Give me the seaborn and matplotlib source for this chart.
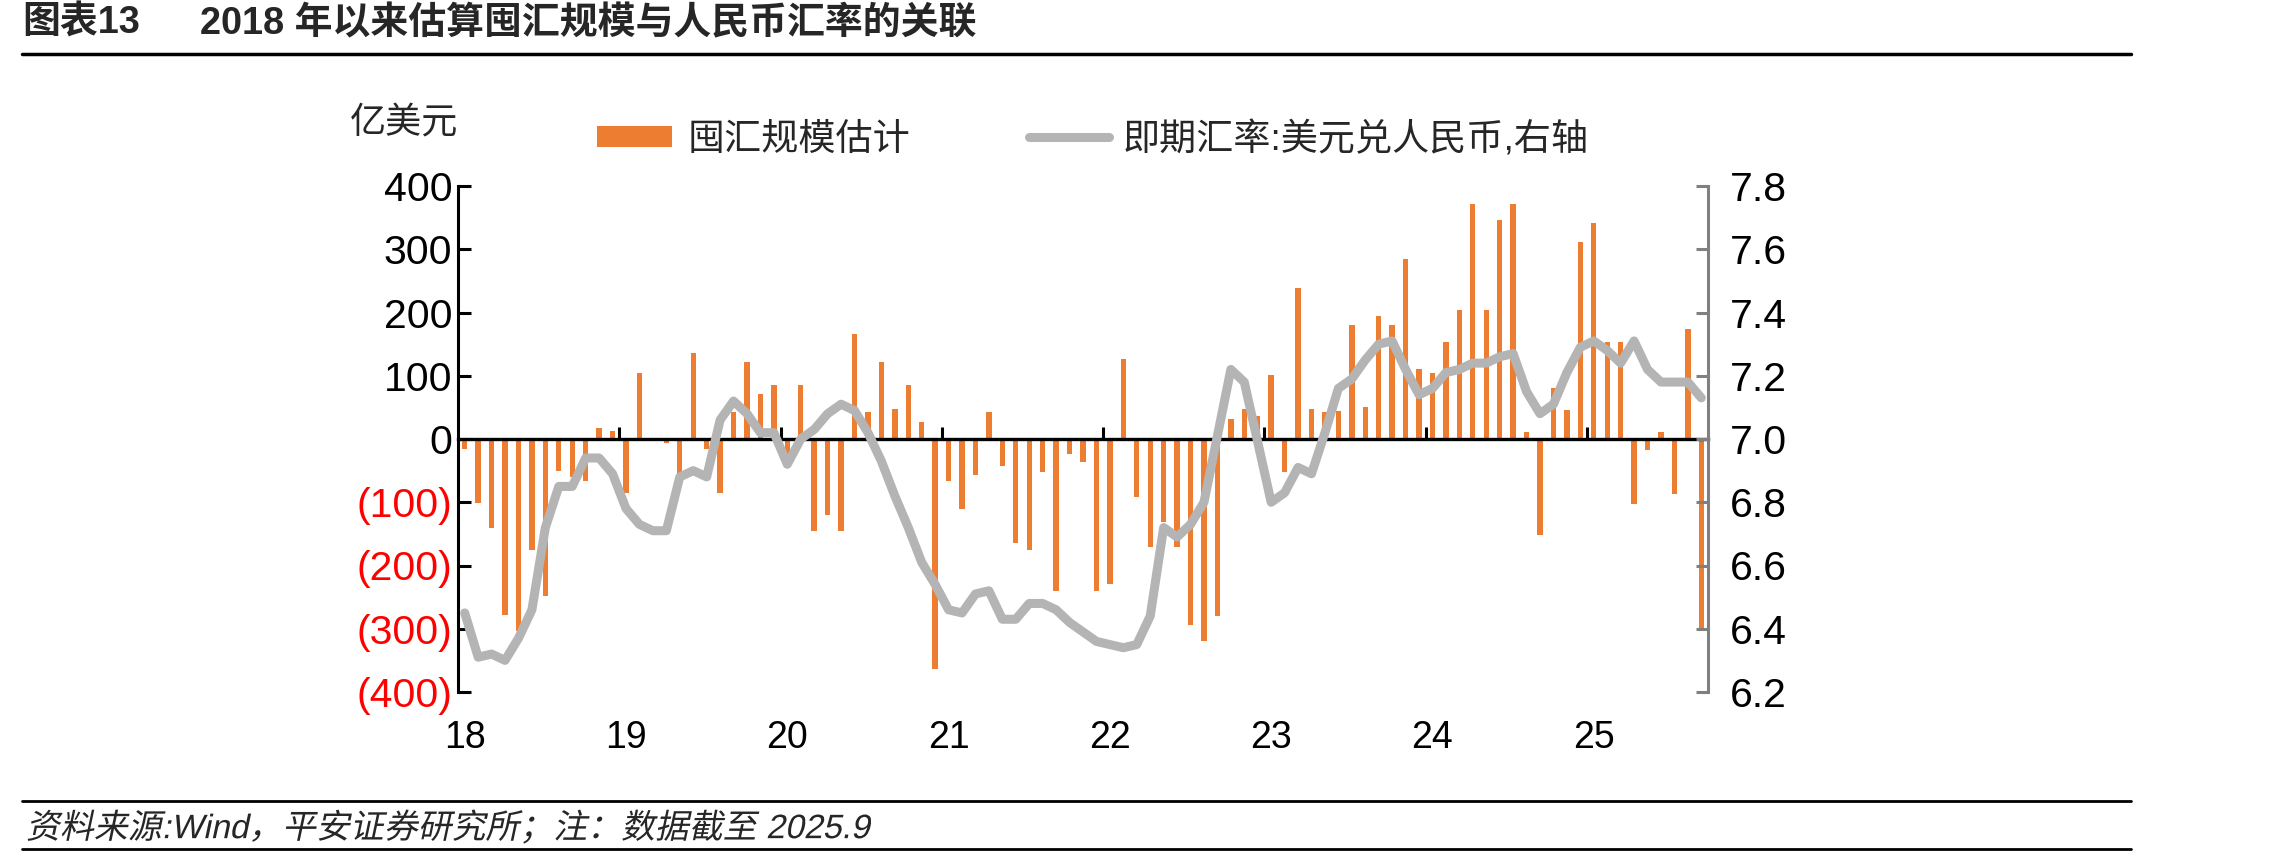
import numpy as np
import pandas as pd
import matplotlib
matplotlib.use("Agg")
import matplotlib.pyplot as plt
import seaborn as sns
from matplotlib.lines import Line2D
from matplotlib.patches import Patch
from matplotlib.transforms import Affine2D, blended_transform_factory
from matplotlib.patheffects import AbstractPathEffect
from matplotlib.ticker import FormatStrFormatter

# ---------------- data ----------------
months = pd.period_range("2018-01", "2025-09", freq="M").strftime("%Y-%m").tolist()

hoard = [-16, -101, -140, -278, -303, -175, -248, -51, -60, -66, 17, 12,
         -86, 105, 0, -7, -71, 136, -16, -86, 42, 121, 71, 86,
         -40, 86, -146, -120, -146, 166, 42, 121, 47, 86, 27, -363,
         -66, -111, -57, 42, -42, -165, -175, -52, -240, -23, -37, -240,
         -230, 126, -91, -170, -131, -170, -294, -319, -280, 32, 47, 36,
         101, -52, 239, 47, 42, 45, 180, 51, 195, 180, 284, 111,
         104, 153, 204, 372, 204, 347, 372, 11, -151, 80, 46, 312,
         342, 154, 154, -102, -17, 11, -87, 174, -299]

usdcny = [6.45, 6.31, 6.32, 6.30, 6.37, 6.46, 6.72, 6.85, 6.85, 6.94, 6.94, 6.89,
          6.78, 6.73, 6.71, 6.71, 6.88, 6.90, 6.88, 7.06, 7.12, 7.08, 7.02, 7.02,
          6.92, 7.00, 7.03, 7.08, 7.11, 7.09, 7.02, 6.93, 6.82, 6.72, 6.61, 6.54,
          6.46, 6.45, 6.51, 6.52, 6.43, 6.43, 6.48, 6.48, 6.46, 6.42, 6.39, 6.36,
          6.35, 6.34, 6.35, 6.44, 6.72, 6.69, 6.73, 6.80, 7.01, 7.22, 7.18, 6.99,
          6.80, 6.83, 6.91, 6.89, 7.02, 7.16, 7.19, 7.25, 7.30, 7.31, 7.22, 7.14,
          7.16, 7.21, 7.22, 7.24, 7.24, 7.26, 7.27, 7.15, 7.08, 7.11, 7.21, 7.29,
          7.31, 7.28, 7.24, 7.31, 7.22, 7.18, 7.18, 7.18, 7.13]

left_ticks = [400, 300, 200, 100, 0, -100, -200, -300, -400]
left_tick_labels = ["400", "300", "200", "100", "0", "(100)", "(200)", "(300)", "(400)"]
right_ticks = [7.8, 7.6, 7.4, 7.2, 7.0, 6.8, 6.6, 6.4, 6.2]

title_left = "图表13"
title_right = "2018 年以来估算囤汇规模与人民币汇率的关联"
unit_label = "亿美元"
legend_labels = ["囤汇规模估计", "即期汇率:美元兑人民币,右轴"]
footer = "资料来源:Wind，平安证券研究所；注：数据截至 2025.9"

BAR = "#ED7D31"
LINE = "#B4B4B4"
GREYAX = "#808080"

# ---------------- style ----------------
sns.set_theme(style="white")
plt.rcParams["font.family"] = ["Liberation Sans", "Noto Sans CJK SC", "DejaVu Sans"]
FONTS = ["Liberation Sans", "Noto Sans CJK SC", "DejaVu Sans"]

W, H = 2281, 859
fig = plt.figure(figsize=(W / 100, H / 100), dpi=100)
fig.patch.set_facecolor("white")

x0, x1 = 458, 1708
y0, y1 = 186, 692
ax = fig.add_axes([x0 / W, 1 - y1 / H, (x1 - x0) / W, (y1 - y0) / H])
ax.set_facecolor("none")

n = len(months)
df = pd.DataFrame({"month": months, "hoard": hoard, "rate": usdcny, "idx": np.arange(n)})

sns.barplot(data=df, x="month", y="hoard", ax=ax, color=BAR, saturation=1,
            width=0.4, errorbar=None, edgecolor="none", linewidth=0)
ax.set_xlim(-0.5, n - 0.5)
ax.set_ylim(-400, 400)
ax.set_xlabel("")
ax.set_ylabel("")

ax2 = ax.twinx()
sns.lineplot(data=df, x="idx", y="rate", ax=ax2, color=LINE, linewidth=6.5,
             solid_joinstyle="round", solid_capstyle="round")
ax2.set_xlim(-0.5, n - 0.5)
ax2.set_ylim(6.2, 7.8)
ax2.set_xlabel("")
ax2.set_ylabel("")

# spines
for s in ["top", "right"]:
    ax.spines[s].set_visible(False)
ax.spines["bottom"].set_position(("data", 0))
ax.spines["bottom"].set_color("black")
ax.spines["bottom"].set_linewidth(2.4)
ax.spines["left"].set_color("black")
ax.spines["left"].set_linewidth(2.2)
for s in ["top", "left", "bottom"]:
    ax2.spines[s].set_visible(False)
ax2.spines["right"].set_color(GREYAX)
ax2.spines["right"].set_linewidth(2.2)

YTICK_FS = 29.5
XTICK_FS = 27

# left y ticks
ax.set_yticks(left_ticks)
ax.set_yticklabels(left_tick_labels)
for lbl, v in zip(ax.get_yticklabels(), left_ticks):
    lbl.set_color("red" if v < 0 else "black")
ax.tick_params(axis="y", left=True, direction="in", length=9, width=2.2,
               color="black", pad=4, labelsize=YTICK_FS)

# x ticks: marks at year boundaries, labels at January
boundaries = [i - 0.5 for i, m in enumerate(months) if m.endswith("-01") and i > 0]
ax.set_xticks(boundaries)
ax.set_xticklabels([""] * len(boundaries))
ax.tick_params(axis="x", bottom=True, direction="in", length=9, width=2.2,
               color="black", labelbottom=False)
trans = blended_transform_factory(ax.transData, ax.transAxes)
for i, m in enumerate(months):
    if m.endswith("-01"):
        ax.text(i, -0.091, m[2:4], transform=trans, ha="center", va="center",
                fontsize=XTICK_FS, color="black")

# right y ticks
ax2.set_yticks(right_ticks)
ax2.yaxis.set_major_formatter(FormatStrFormatter("%.1f"))
ax2.tick_params(axis="y", right=True, direction="in", length=9, width=2.2,
                color=GREYAX, labelcolor="black", pad=16, labelsize=YTICK_FS)

# unit label
fig.text(x0 / W, 1 - 124 / H, unit_label, ha="right", va="center", fontsize=26,
         family=FONTS)

# legend (two blocks, as in the reference)
LEG_FS = 26.7
leg1 = fig.legend([Patch(facecolor=BAR, edgecolor="none")], [legend_labels[0]],
                  loc="center left", bbox_to_anchor=(597 / W, 1 - 140 / H),
                  frameon=False, fontsize=LEG_FS, handlelength=2.02, handleheight=0.52,
                  handletextpad=0.43, borderpad=0, borderaxespad=0)
leg2 = fig.legend([Line2D([0], [0], color=LINE, lw=6.5, solid_capstyle="round")],
                  [legend_labels[1]], loc="center left",
                  bbox_to_anchor=(1029 / W, 1 - 140 / H), frameon=False,
                  fontsize=LEG_FS, handlelength=2.15, handletextpad=0.38,
                  borderpad=0, borderaxespad=0)

# title
TITLE_FS = 27.3
fig.text(22 / W, 1 - 24 / H, title_left, ha="left", va="center", fontsize=TITLE_FS,
         fontweight="bold", family=FONTS)
fig.text(200 / W, 1 - 24 / H, title_right, ha="left", va="center", fontsize=TITLE_FS,
         fontweight="bold", family=FONTS)
fig.add_artist(Line2D([22 / W, 2131 / W], [1 - 54 / H] * 2, transform=fig.transFigure,
                      color="black", lw=2.5))


# footer (oblique)
class Oblique(AbstractPathEffect):
    def __init__(self, shear_deg=12):
        super().__init__()
        self._skew = Affine2D().skew_deg(shear_deg, 0)

    def draw_path(self, renderer, gc, tpath, affine, rgbFace=None):
        renderer.draw_path(gc, tpath, self._skew + affine, rgbFace)


fig.add_artist(Line2D([22 / W, 2131 / W], [1 - 801 / H] * 2, transform=fig.transFigure,
                      color="black", lw=2.0))
fig.text(26 / W, 1 - 828 / H, footer, ha="left", va="center", fontsize=24.4,
         family=FONTS, path_effects=[Oblique(12)])
fig.add_artist(Line2D([22 / W, 2131 / W], [1 - 849 / H] * 2, transform=fig.transFigure,
                      color="black", lw=2.0))

fig.savefig("out.png", dpi=100, facecolor="white")
